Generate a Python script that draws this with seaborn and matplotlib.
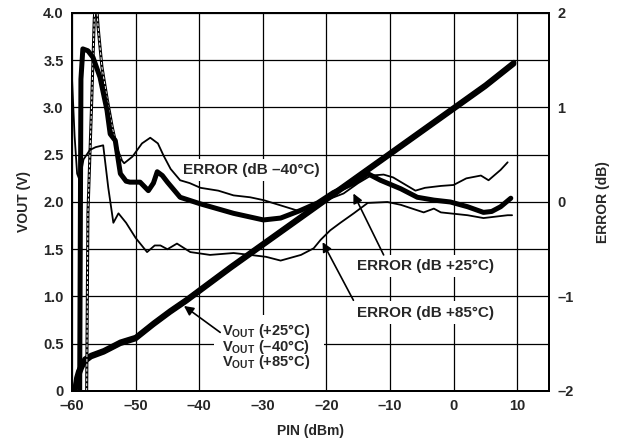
import numpy as np
import matplotlib
matplotlib.use("Agg")
import matplotlib.pyplot as plt
import matplotlib.ticker as ticker
from matplotlib.patches import Rectangle
import seaborn as sns

# Style first, fonts after (set_style resets font.family)
sns.set_style("white")
plt.rcParams["font.family"] = ["Liberation Sans", "DejaVu Sans"]
plt.rcParams["font.weight"] = "bold"
plt.rcParams["mathtext.fontset"] = "custom"
plt.rcParams["mathtext.rm"] = "Liberation Sans:bold"
plt.rcParams["mathtext.bf"] = "Liberation Sans:bold"

# VOUT (V) vs PIN (dBm), three temperatures nearly on top of each other
pin_vout = [-59.6, -59.3, -59.0, -58.5, -58.0, -57.0, -55.0, -52.4, -50.0, -47.2, -44.6,
            -42.0, -40.0, -35.0, -30.0, -25.0, -20.0, -15.0, -10.0, -5.0, 0.0, 5.0, 9.5]
vout_25 = [0.0, 0.10, 0.18, 0.26, 0.33, 0.37, 0.42, 0.51, 0.56, 0.71, 0.84,
           0.96, 1.06, 1.31, 1.55, 1.79, 2.03, 2.27, 2.51, 2.75, 2.99, 3.23, 3.47]
vout_m40 = [0.0, 0.06, 0.15, 0.24, 0.31, 0.36, 0.41, 0.50, 0.55, 0.70, 0.83,
            0.95, 1.05, 1.30, 1.54, 1.78, 2.02, 2.26, 2.50, 2.74, 2.98, 3.22, 3.46]
vout_85 = [0.0, 0.14, 0.21, 0.28, 0.34, 0.38, 0.43, 0.52, 0.57, 0.72, 0.85,
           0.97, 1.07, 1.32, 1.56, 1.80, 2.04, 2.28, 2.52, 2.76, 3.00, 3.24, 3.48]

# ERROR (dB) curves
pin_e25 = [-58.8, -58.6, -58.3, -57.5, -56.7, -55.6, -54.5, -54.0, -53.2, -52.4, -51.5, -50.9,
           -49.3, -48.0, -47.2, -46.6, -45.8, -45.0, -43.0, -39.8, -34.6, -29.9, -27.2, -24.1,
           -21.4, -18.9, -15.7, -13.5, -11.5, -8.3, -5.7, -3.1, -0.5, 2.2, 4.7, 6.0, 7.4, 9.0]
err_25 = [-2.0, 1.30, 1.62, 1.60, 1.53, 1.32, 0.97, 0.72, 0.65, 0.30, 0.22, 0.21,
          0.21, 0.12, 0.20, 0.32, 0.28, 0.21, 0.05, -0.02, -0.12, -0.19, -0.17, -0.09,
          -0.01, 0.10, 0.20, 0.30, 0.23, 0.14, 0.05, 0.02, 0.00, -0.05, -0.11, -0.10, -0.05, 0.04]

pin_m40_start = [-57.7, -57.5, -56.9, -56.5, -56.2, -55.9, -55.3, -54.5, -53.7, -52.9, -52.3]
err_m40_start = [-2.0, -0.12, 1.08, 1.95, 2.15, 1.85, 1.43, 1.10, 0.80, 0.55, 0.45]

pin_m40 = [-52.3, -51.8, -50.5, -49.0, -47.7, -46.5, -45.6, -44.5, -43.0, -41.5, -39.8, -37.0,
           -34.6, -32.0, -29.9, -27.0, -24.6, -22.5, -20.0, -17.3, -15.0, -13.0, -11.0, -9.5,
           -8.0, -6.0, -4.5, -2.0, 0.0, 2.0, 4.3, 5.5, 7.4, 8.5]
err_m40 = [0.45, 0.41, 0.48, 0.62, 0.68, 0.62, 0.49, 0.35, 0.23, 0.20, 0.15, 0.12,
           0.07, 0.05, 0.02, -0.04, -0.09, -0.06, 0.02, 0.09, 0.20, 0.28, 0.29, 0.26,
           0.20, 0.12, 0.15, 0.17, 0.18, 0.25, 0.28, 0.23, 0.34, 0.42]

pin_85 = [-60.0, -59.6, -59.2, -58.8, -58.2, -57.2, -56.3, -55.1, -54.3, -53.5, -52.7, -51.5,
          -50.0, -48.2, -47.0, -46.1, -45.0, -43.5, -41.4, -38.3, -34.6, -32.0, -29.5, -27.2,
          -24.0, -22.0, -20.9, -19.4, -17.8, -15.7, -13.5, -10.4, -8.3, -4.7, -3.1, -2.0,
          2.2, 4.7, 8.5, 9.2]
err_85 = [1.30, 0.70, 0.30, 0.23, 0.45, 0.55, 0.58, 0.60, 0.15, -0.22, -0.12, -0.22,
          -0.38, -0.53, -0.46, -0.46, -0.50, -0.44, -0.53, -0.56, -0.54, -0.56, -0.58, -0.62,
          -0.56, -0.49, -0.40, -0.30, -0.22, -0.12, -0.01, 0.00, -0.03, -0.11, -0.07, -0.11,
          -0.14, -0.17, -0.14, -0.14]

x_ticks = [-60, -50, -40, -30, -20, -10, 0, 10]
vout_labels = ["V$_{\\mathrm{OUT}}$ (+25\u00b0C)",
               "V$_{\\mathrm{OUT}}$ (\u201340\u00b0C)",
               "V$_{\\mathrm{OUT}}$ (+85\u00b0C)"]


def dash(v, fmt):
    return fmt.format(v).replace("-", "\u2013")


fig = plt.figure(figsize=(6.21, 4.42), dpi=100)
ax = fig.add_axes([0.116, 0.1154, 0.768, 0.8552])
ax2 = ax.twinx()

# grid on the left axis
ax.set_xlim(-60, 15)
ax.set_ylim(0, 4)
ax.set_xticks(x_ticks)
ax.set_yticks(np.arange(0, 4.01, 0.5))
ax.grid(True, color="black", linewidth=0.9)
ax.set_axisbelow(True)

# VOUT lines
for v in (vout_m40, vout_85, vout_25):
    sns.lineplot(x=pin_vout, y=v, ax=ax, color="black", linewidth=3.4,
                 sort=False, estimator=None, legend=False)

# error lines on right axis
ax2.set_ylim(-2, 2)
sns.lineplot(x=pin_m40_start, y=err_m40_start, ax=ax2, color="black", linewidth=2.2,
             sort=False, estimator=None, legend=False)
ax2.plot(pin_m40_start, err_m40_start, color="white", linewidth=0.7, linestyle=(0, (3, 2)))
sns.lineplot(x=pin_m40, y=err_m40, ax=ax2, color="black", linewidth=1.3,
             sort=False, estimator=None, legend=False)
sns.lineplot(x=pin_85, y=err_85, ax=ax2, color="black", linewidth=1.3,
             sort=False, estimator=None, legend=False)
sns.lineplot(x=pin_e25, y=err_25, ax=ax2, color="black", linewidth=3.6,
             sort=False, estimator=None, legend=False)
ax2.set_xlim(-60, 15)

# tick labels
ax.xaxis.set_major_formatter(ticker.FuncFormatter(lambda v, p: dash(v, "{:.0f}")))
ax.yaxis.set_major_formatter(ticker.FuncFormatter(
    lambda v, p: "0" if v == 0 else "{:.1f}".format(v)))
ax2.set_yticks([-2, -1, 0, 1, 2])
ax2.yaxis.set_major_formatter(ticker.FuncFormatter(lambda v, p: dash(v, "{:.0f}")))
ax.tick_params(axis="both", length=0, pad=6, labelsize=10.5)
ax2.tick_params(axis="y", length=0, pad=6, labelsize=10.5)
for t in ax.get_xticklabels() + ax.get_yticklabels() + ax2.get_yticklabels():
    t.set_fontweight("bold")

for a in (ax, ax2):
    for s in a.spines.values():
        s.set_linewidth(1.4)
        s.set_color("black")

ax.set_xlabel("PIN (dBm)", fontsize=10, fontweight="bold", labelpad=8)
ax.set_ylabel("VOUT (V)", fontsize=10, fontweight="bold", labelpad=9)
ax2.set_ylabel("ERROR (dB)", fontsize=10, fontweight="bold", labelpad=16)

# labels on the left axis: white boxes cut the grid but not the error curves
box = dict(facecolor="white", edgecolor="none", pad=3)
lab = dict(fontsize=11, fontweight="bold", zorder=5)
ax.text(-31.8, 2.34, "ERROR (dB \u201340\u00b0C)", ha="center", va="center", bbox=box, **lab)
ax.text(-4.4, 1.32, "ERROR (dB +25\u00b0C)", ha="center", va="center", bbox=box, **lab)
ax.text(-4.4, 0.83, "ERROR (dB +85\u00b0C)", ha="center", va="center", bbox=box, **lab)

# white block behind the VOUT legend text, down to the x axis
ax.add_patch(Rectangle((-37.6, 0.0), 17.3, 0.80, facecolor="white", edgecolor="none",
                       zorder=1.5))
ax.text(-36.4, 0.47, "\n".join(vout_labels), ha="left", va="center", linespacing=0.84,
        fontsize=10.5, fontweight="bold", zorder=5)

arrow = dict(arrowstyle="-|>", color="black", lw=1.2, mutation_scale=14,
             shrinkA=0, shrinkB=0)
ax2.annotate("", xy=(-42.4, 0.90), xytext=(-36.7, 0.62),
             xycoords=ax.transData, textcoords=ax.transData, arrowprops=arrow, zorder=6)
ax2.annotate("", xy=(-15.75, 2.09), xytext=(-11.0, 1.44),
             xycoords=ax.transData, textcoords=ax.transData, arrowprops=arrow, zorder=6)
ax2.annotate("", xy=(-20.6, 1.575), xytext=(-15.75, 0.96),
             xycoords=ax.transData, textcoords=ax.transData, arrowprops=arrow, zorder=6)

fig.savefig("out.png", dpi=100)
